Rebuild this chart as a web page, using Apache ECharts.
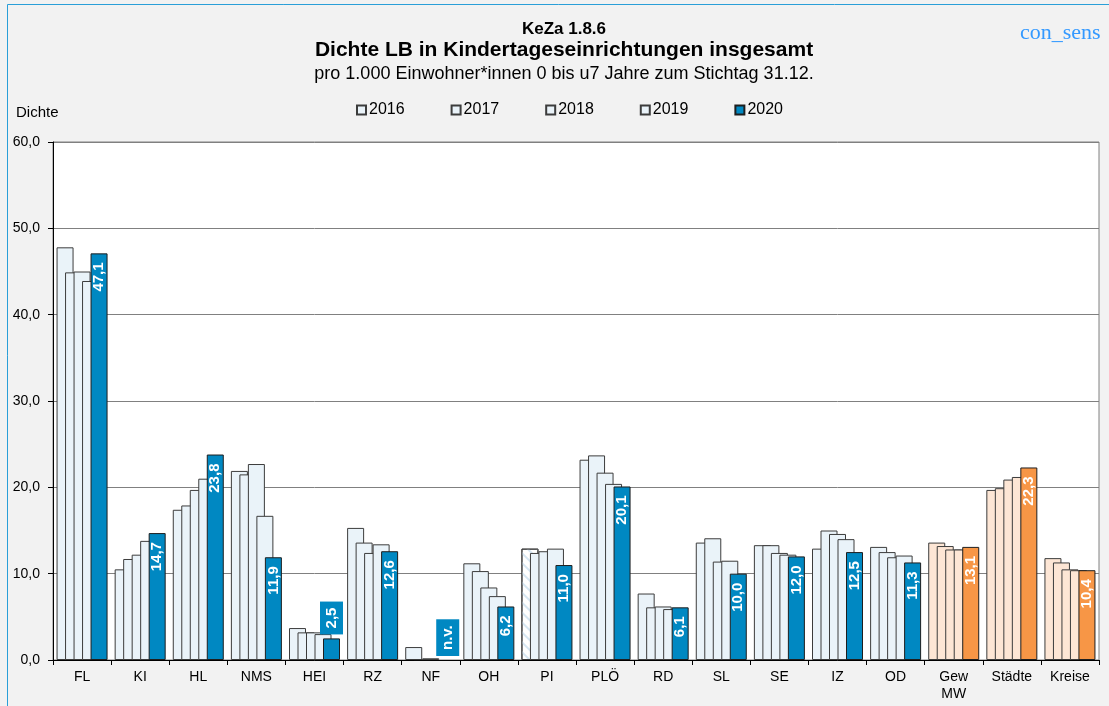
<!DOCTYPE html>
<html>
<head>
<meta charset="utf-8">
<script src="https://cdn.jsdelivr.net/npm/echarts@6/dist/echarts.min.js"></script>
<style>
  html, body { margin: 0; padding: 0; background: #f2f2f2; }
  #chart { width: 1109px; height: 706px; }
</style>
</head>
<body>
<div id="chart"></div>
<script>
// Kategorien (Kreise/Städte) und Werte je Jahr
var categories = ['FL', 'KI', 'HL', 'NMS', 'HEI', 'RZ', 'NF', 'OH', 'PI', 'PLÖ', 'RD', 'SL', 'SE', 'IZ', 'OD', 'Gew\nMW', 'Städte', 'Kreise'];
var years = ['2016', '2017', '2018', '2019', '2020'];

var v2016 = [47.8, 10.5, 17.4, 21.9, 3.7, 15.3, 1.5, 11.2, 12.9, 23.2, 7.7, 13.6, 13.3, 12.9, 13.1, 13.6, 19.7, 11.8];
var v2017 = [44.9, 11.7, 17.9, 21.5, 3.2, 13.6, 0.1, 10.3, 12.4, 23.7, 6.1, 14.1, 13.3, 15.0, 12.5, 13.2, 19.9, 11.3];
var v2018 = [45.0, 12.2, 19.7, 22.7, 3.2, 12.4, 0.2, 8.4, 12.6, 21.7, 6.2, 11.4, 12.4, 14.6, 11.9, 12.8, 20.9, 10.5];
var v2019 = [43.9, 13.8, 21.0, 16.7, 3.0, 13.4, 0, 7.4, 12.9, 20.4, 5.9, 11.5, 12.2, 14.0, 12.1, 12.8, 21.2, 10.4];
var v2020 = [47.1, 14.7, 23.8, 11.9, 2.5, 12.6, null, 6.2, 11.0, 20.1, 6.1, 10.0, 12.0, 12.5, 11.3, 13.1, 22.3, 10.4];

var yTicks = [0, 10, 20, 30, 40, 50, 60];

// Farben
var lightBlue = '#eaf3f9';
var darkBlue = '#0088c2';
var lightOrange = '#fde6d5';
var darkOrange = '#f79646';
var firstSummary = 15; // ab "Gew MW" orange

var font = 'Liberation Sans, Arial, sans-serif';

function fmt(v) {
  return v.toFixed(1).replace('.', ',');
}

// Label oberhalb kurzer Balken (2,5 / n.v.)
var outsideLabel = {
  show: true,
  position: 'top',
  distance: 4,
  rotate: 90,
  align: 'left',
  verticalAlign: 'middle',
  backgroundColor: darkBlue,
  padding: [4, 6]
};

function oldSeries(name, values) {
  return {
    name: name,
    type: 'bar',
    barWidth: 17,
    barGap: '-50%',
    itemStyle: { color: lightBlue, borderColor: '#3c3c3c', borderWidth: 1 },
    data: values.map(function (v, i) {
      var item = { value: v };
      if (i >= firstSummary) item.itemStyle = { color: lightOrange };
      if (name === '2016' && categories[i] === 'PI') {
        item.itemStyle = {
          color: '#ffffff',
          decal: { symbol: 'rect', symbolSize: 1, dashArrayX: [[1, 0]], dashArrayY: [2, 5], rotation: Math.PI / 4, color: '#d6e6f2' }
        };
      }
      if (v === 0) item.itemStyle = { borderWidth: 0 };
      return item;
    })
  };
}

var series2020 = {
  name: '2020',
  type: 'bar',
  barWidth: 17,
  barGap: '-50%',
  itemStyle: { color: darkBlue, borderColor: '#1e1e1e', borderWidth: 1 },
  label: {
    show: true,
    position: 'insideTop',
    distance: 9,
    rotate: 90,
    align: 'right',
    verticalAlign: 'middle',
    color: '#ffffff',
    fontWeight: 'bold',
    fontSize: 15,
    fontFamily: font,
    formatter: function (p) { return fmt(p.value); }
  },
  data: v2020.map(function (v, i) {
    if (v === null) {
      return {
        value: 0,
        itemStyle: { borderWidth: 0 },
        label: Object.assign({}, outsideLabel, { formatter: 'n.v.' })
      };
    }
    var item = { value: v };
    if (i >= firstSummary) item.itemStyle = { color: darkOrange };
    if (v < 5) item.label = outsideLabel;
    return item;
  })
};

var chart = echarts.init(document.getElementById('chart'));

var option = {
  backgroundColor: '#f2f2f2',
  textStyle: { fontFamily: font, color: '#000' },
  animation: false,
  graphic: [{
    type: 'rect',
    shape: { x: 7.5, y: 4.5, width: 1200, height: 800 },
    style: { fill: 'none', stroke: '#2a9fd8', lineWidth: 1 },
    silent: true
  }],
  title: [
    { text: 'KeZa 1.8.6', left: 564, top: 21, padding: 0, textAlign: 'center',
      textStyle: { fontSize: 17, fontWeight: 'bold', color: '#000' } },
    { text: 'Dichte LB in Kindertageseinrichtungen insgesamt', left: 564, top: 40, padding: 0, textAlign: 'center',
      textStyle: { fontSize: 21, fontWeight: 'bold', color: '#000' } },
    { text: 'pro 1.000 Einwohner*innen 0 bis u7 Jahre zum Stichtag 31.12.', left: 564, top: 65, padding: 0, textAlign: 'center',
      textStyle: { fontSize: 18, fontWeight: 'normal', color: '#000' } },
    { text: 'con_sens', left: 1020, top: 22, padding: 0,
      textStyle: { fontSize: 22, fontWeight: 'normal', color: '#3399ff', fontFamily: 'Liberation Serif, DejaVu Serif, serif' } },
    { text: 'Dichte', left: 16, top: 105, padding: 0,
      textStyle: { fontSize: 15, fontWeight: 'normal', color: '#000' } }
  ],
  legend: {
    data: years,
    left: 356,
    top: 102,
    padding: 0,
    icon: 'rect',
    itemWidth: 9,
    itemHeight: 9,
    itemGap: 46,
    textStyle: { fontSize: 16, color: '#000', padding: [0, 0, 0, -2] }
  },
  grid: {
    left: 53, right: 10, top: 142, bottom: 46,
    show: true, backgroundColor: '#ffffff', borderColor: '#808080', borderWidth: 1
  },
  xAxis: {
    type: 'category',
    data: categories,
    axisLine: { lineStyle: { color: '#000' } },
    axisTick: { show: true, length: 5, lineStyle: { color: '#000' } },
    axisLabel: { fontSize: 14, color: '#000', margin: 9, lineHeight: 17, interval: 0 }
  },
  yAxis: {
    type: 'value',
    min: yTicks[0],
    max: yTicks[yTicks.length - 1],
    interval: 10,
    axisLine: { show: true, lineStyle: { color: '#000' } },
    axisTick: { show: true, length: 5, lineStyle: { color: '#000' } },
    axisLabel: { fontSize: 14, color: '#000', margin: 13, formatter: function (v) { return fmt(v); } },
    splitLine: { lineStyle: { color: '#808080', width: 1 } }
  },
  series: [
    oldSeries('2016', v2016),
    oldSeries('2017', v2017),
    oldSeries('2018', v2018),
    oldSeries('2019', v2019),
    series2020
  ]
};

chart.setOption(option);
</script>
</body>
</html>
